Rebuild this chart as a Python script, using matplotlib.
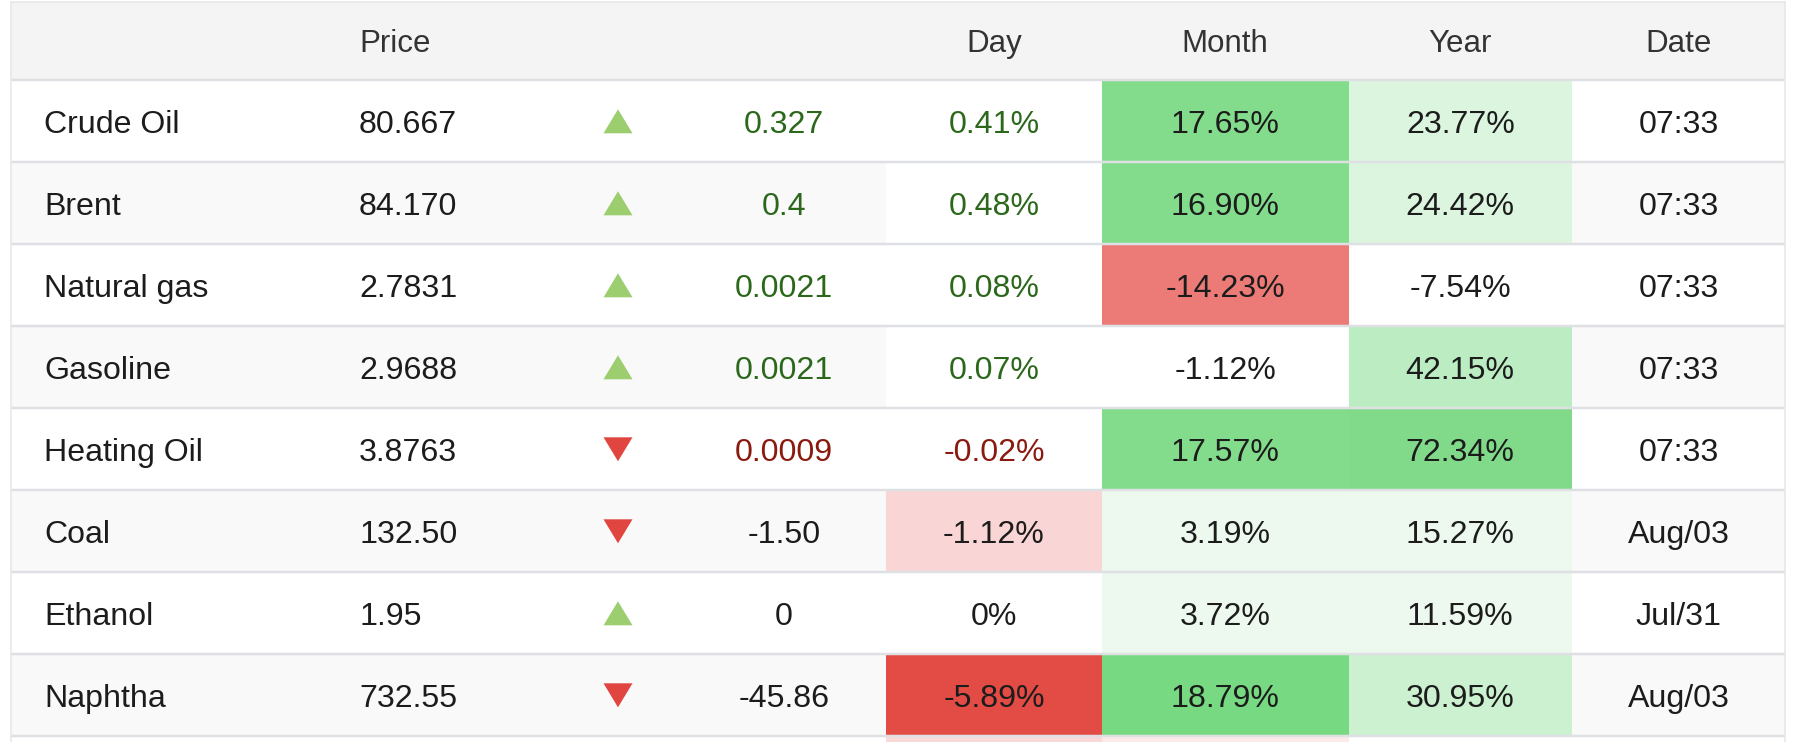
import matplotlib
matplotlib.use('Agg')
import matplotlib.pyplot as plt
from matplotlib.patches import Rectangle, Polygon

# ---------------- data ----------------
headers = ['', 'Price', '', '', 'Day', 'Month', 'Year', 'Date']
names = ['Crude Oil', 'Brent', 'Natural gas', 'Gasoline', 'Heating Oil', 'Coal', 'Ethanol', 'Naphtha']
prices = ['80.667', '84.170', '2.7831', '2.9688', '3.8763', '132.50', '1.95', '732.55']
changes = [0.327, 0.4, 0.0021, 0.0021, -0.0009, -1.50, 0.0, -45.86]
change_labels = ['0.327', '0.4', '0.0021', '0.0021', '0.0009', '-1.50', '0', '-45.86']
day_pct = [0.41, 0.48, 0.08, 0.07, -0.02, -1.12, 0.0, -5.89]
month_pct = [17.65, 16.90, -14.23, -1.12, 17.57, 3.19, 3.72, 18.79]
year_pct = [23.77, 24.42, -7.54, 42.15, 72.34, 15.27, 11.59, 30.95]
dates = ['07:33', '07:33', '07:33', '07:33', '07:33', 'Aug/03', 'Jul/31', 'Aug/03']

# ---------------- style / layout ----------------
W, H = 1798, 742
DPI = 100
FONT = 'Liberation Sans'
FS = 23.1
FS_HEAD = 22.5
LEFT, RIGHT, TOP = 11, 1785, 2
HB = 80.3          # header bottom
ROW_H = 82.0
X_NAME, X_PRICE, X_ARROW, X_CHG = 44, 359, 618, 784
COL_EDGES = {'day': (886, 1102), 'month': (1102, 1348.5), 'year': (1348.5, 1572), 'date': (1572, RIGHT)}
HEADER_X = {'Price': (X_PRICE, 'left')}
LINE_C = '#dfe0e4'
HEADER_BG = '#f4f4f4'
STRIPE = '#f9f9f9'
TXT = '#1c1c1c'
GREEN_TXT = '#2b681b'
RED_TXT = '#8a1a10'
UP_C = '#9ccd6f'
DOWN_C = '#e0463f'
PARTIAL_FILLS = {'day': '#f9d8d8', 'month': '#fce9e9'}


def day_color(v):
    if v <= -3:
        return '#e34b45'
    if v <= -1:
        return '#f9d6d5'
    return '#ffffff'


def month_color(v):
    if v <= -10:
        return '#ec7b77'
    if v < 3:
        return '#ffffff'
    if v < 10:
        return '#edf9ef'
    if v < 18:
        return '#82dc8b'
    return '#77d981'


def year_color(v):
    if v < 5:
        return '#ffffff'
    if v < 20:
        return '#edf9ef'
    if v < 28:
        return '#dbf5df'
    if v < 35:
        return '#ccf1d1'
    if v < 60:
        return '#bcedc2'
    return '#81da89'


def pct_label(v):
    return '0%' if v == 0 else f'{v:.2f}%'


fig = plt.figure(figsize=(W / DPI, H / DPI), dpi=DPI)
ax = fig.add_axes([0, 0, 1, 1])
ax.set_xlim(0, W)
ax.set_ylim(H, 0)
ax.axis('off')

px = 72.0 / DPI  # points per pixel
cap = 0.716 * FS / px
cap_h = 0.716 * FS_HEAD / px

# header
ax.add_patch(Rectangle((LEFT, TOP), RIGHT - LEFT, HB - TOP, fc=HEADER_BG, ec='none', zorder=0))
hy = (TOP + HB) / 2 + cap_h / 2
col_centers = {'Day': sum(COL_EDGES['day']) / 2, 'Month': sum(COL_EDGES['month']) / 2,
               'Year': sum(COL_EDGES['year']) / 2, 'Date': sum(COL_EDGES['date']) / 2}
for h in headers:
    if not h:
        continue
    if h in HEADER_X:
        x, ha = HEADER_X[h]
    else:
        x, ha = col_centers[h], 'center'
    ax.text(x, hy, h, ha=ha, va='baseline', fontsize=FS_HEAD, family=FONT, color='#333333', zorder=5)

n = len(names)
for i in range(n):
    y0 = HB + i * ROW_H
    rc = y0 + ROW_H / 2
    base = rc + cap / 2
    bg = STRIPE if i % 2 == 1 else '#ffffff'
    ax.add_patch(Rectangle((LEFT, y0), RIGHT - LEFT, ROW_H, fc=bg, ec='none', zorder=0))
    for key, val, fn in (('day', day_pct[i], day_color), ('month', month_pct[i], month_color),
                         ('year', year_pct[i], year_color)):
        a, b = COL_EDGES[key]
        ax.add_patch(Rectangle((a, y0), b - a, ROW_H, fc=fn(val), ec='none', zorder=1))

    live = ':' in dates[i]
    up = changes[i] >= 0
    chg_c = (GREEN_TXT if up else RED_TXT) if live else TXT

    kw = dict(va='baseline', fontsize=FS, family=FONT, zorder=5)
    ax.text(X_NAME, base, names[i], ha='left', color=TXT, **kw)
    ax.text(X_PRICE, base, prices[i], ha='left', color=TXT, **kw)
    ax.text(X_CHG, base, change_labels[i], ha='center', color=chg_c, **kw)
    ax.text(col_centers['Day'], base, pct_label(day_pct[i]), ha='center', color=chg_c, **kw)
    ax.text(col_centers['Month'], base, pct_label(month_pct[i]), ha='center', color=TXT, **kw)
    ax.text(col_centers['Year'], base, pct_label(year_pct[i]), ha='center', color=TXT, **kw)
    ax.text(col_centers['Date'], base, dates[i], ha='center', color=TXT, **kw)

    hw, hh = 14.5, 12.0
    if up:
        pts = [(X_ARROW - hw, rc + hh), (X_ARROW + hw, rc + hh), (X_ARROW, rc - hh)]
        fc = UP_C
    else:
        pts = [(X_ARROW - hw, rc - hh), (X_ARROW + hw, rc - hh), (X_ARROW, rc + hh)]
        fc = DOWN_C
    ax.add_patch(Polygon(pts, closed=True, fc=fc, ec='none', zorder=4))

# partially visible next row
y0 = HB + n * ROW_H
ax.add_patch(Rectangle((LEFT, y0), RIGHT - LEFT, ROW_H, fc='#ffffff', ec='none', zorder=0))
for key, c in PARTIAL_FILLS.items():
    a, b = COL_EDGES[key]
    ax.add_patch(Rectangle((a, y0), b - a, ROW_H, fc=c, ec='none', zorder=1))

# row lines
lw = 2.5 * px
for k in range(n + 1):
    y = HB + k * ROW_H
    ax.plot([LEFT, RIGHT], [y, y], color=LINE_C, lw=lw, solid_capstyle='butt', zorder=3)
# outer border
ax.plot([LEFT, RIGHT], [TOP, TOP], color='#e6e6ea', lw=1.5 * px, zorder=3)
ax.plot([LEFT, LEFT], [TOP, H], color='#e6e6ea', lw=1.5 * px, zorder=3)
ax.plot([RIGHT, RIGHT], [TOP, H], color='#e6e6ea', lw=1.5 * px, zorder=3)

fig.savefig('out.png', dpi=DPI, facecolor='white')
